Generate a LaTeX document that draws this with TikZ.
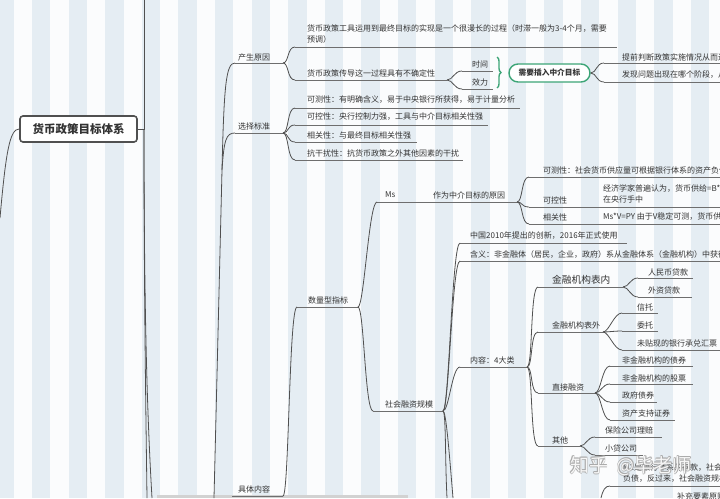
\documentclass[tikz,border=0pt]{standalone}
\usepackage{fontspec}
\setmainfont{Noto Sans CJK SC}
\usetikzlibrary{decorations.pathreplacing}
\definecolor{stripe}{HTML}{E5EDF3}
\definecolor{bgw}{HTML}{FBFCFD}
\definecolor{ln}{HTML}{505050}
\definecolor{ulc}{HTML}{6E6E6E}
\definecolor{txt}{HTML}{333333}
\definecolor{grn}{HTML}{3DA577}
\newcommand\mmtopic[8][]{%
  \node[tx,#1] (#2) at (#3,#4) {#8};
  \coordinate (#2-l) at (#5,#7);
  \coordinate (#2-r) at (#6,#7);
  \draw[ul] (#2-l) -- (#2-r);}
\newcommand\mmlink[2]{\draw[conn] (#1) .. controls +(6,0) and +(-8,0) .. (#2);}
\begin{document}
\begin{tikzpicture}[x=1pt,y=-1pt,
  tx/.style={anchor=west,inner sep=0pt,font=\fontsize{8}{11}\selectfont,text=txt},
  ul/.style={draw=ulc,line width=0.8pt},
  conn/.style={draw=ln,line width=0.8pt},
  rootbox/.style={draw=ln,line width=1.6pt,rounded corners=3pt,fill=white,
    minimum width=117pt,minimum height=26pt,inner sep=0pt,
    font=\fontsize{11.5}{13}\selectfont\bfseries,text=txt},
  gbox/.style={draw=grn,line width=1.4pt,rounded corners=9pt,fill=white,
    minimum width=81pt,minimum height=18pt,inner sep=0pt,
    font=\fontsize{7.7}{9}\selectfont\bfseries,text=txt},
  wm/.style={inner sep=0pt,font=\fontsize{19}{20}\selectfont}]
\useasboundingbox (0,0) rectangle (720,498);
\clip (0,0) rectangle (720,498);
\fill[bgw] (0,0) rectangle (720,498);
\foreach \k in {-1,...,19} \fill[stripe] ({32+36.6*\k},0) rectangle ++(18.3,498);
\fill[gray!35] (157,495) rectangle (408,498);

% root
\node[rootbox] (root) at (78.5,129) {货币政策目标体系};
\coordinate (rj) at (144,129);
\coordinate (rtop) at (144,0);
\coordinate (rb1) at (147,498);
\coordinate (rb2) at (152,498);
\coordinate (rleft) at (0,218);
\draw[conn] (root.east) -- (rj) -- (rtop);
\draw[conn] (rj) .. controls (144,300) and (146,420) .. (rb1);
\draw[conn] (rj) .. controls (144,330) and (148,430) .. (rb2);
\draw[conn] (root.west) .. controls (10,129) and (6,150) .. (rleft);

% 产生原因
\mmtopic{cs}{238}{57}{235}{283}{63}{产生原因}
\mmtopic[align=left]{c1}{307}{33.5}{295}{617}{47}{货币政策工具运用到最终目标的实现是一个很漫长的过程（时滞一般为3-4个月，需要\\预调）}
\mmtopic{c2}{307}{73}{295}{447}{80}{货币政策传导这一过程具有不确定性}
\mmtopic{sj}{472}{64}{462}{493}{71}{时间}
\mmtopic{xl}{472}{82}{462}{493}{89}{效力}
\mmlink{cs-r}{c1-l}
\mmlink{cs-r}{c2-l}
\mmlink{c2-r}{sj-l}
\mmlink{c2-r}{xl-l}
\draw[grn,line width=1.4pt,decorate,decoration={brace,amplitude=4pt}] (497,57) -- (497,88);
\node[gbox] (mid) at (549.5,73) {需要插入中介目标};
\mmtopic{m1}{622}{57}{604}{720}{63}{提前判断政策实施情况从而进行调整}
\mmtopic{m2}{622}{75}{604}{720}{82}{发现问题出现在哪个阶段，从而及时调整}
\mmlink{mid.east}{m1-l}
\mmlink{mid.east}{m2-l}

% 选择标准
\mmtopic{xz}{238}{126}{235}{283}{133}{选择标准}
\mmtopic{x1}{307}{100}{295}{520}{108}{可测性：有明确含义，易于中央银行所获得，易于计量分析}
\mmtopic{x2}{307}{117}{295}{488}{125}{可控性：央行控制力强，工具与中介目标相关性强}
\mmtopic{x3}{307}{135}{295}{417}{142}{相关性：与最终目标相关性强}
\mmtopic{x4}{307}{153}{295}{463}{160}{抗干扰性：抗货币政策之外其他因素的干扰}
\mmlink{xz-r}{x1-l}
\mmlink{xz-r}{x2-l}
\mmlink{xz-r}{x3-l}
\mmlink{xz-r}{x4-l}

% line from below to 产生原因 / 选择标准
\coordinate (bbot) at (214,498);
\coordinate (bj) at (222,170);
\draw[conn] (bbot) -- (bj) .. controls (224,85) and (226,63) .. (cs-l);
\draw[conn] (bj) .. controls (224,140) and (226,133) .. (xz-l);

% 具体内容
\mmtopic{jt}{238}{489}{232}{283}{496}{具体内容}
\mmtopic{sl}{308}{300}{297}{358}{307}{数量型指标}
\mmlink{jt-r}{sl-l}
\mmtopic{ms}{385}{195}{377}{423}{202}{Ms}
\mmtopic{zw}{433}{195}{423}{517}{202}{作为中介目标的原因}
\mmlink{sl-r}{ms-l}
\mmtopic{z1}{543}{170}{529}{720}{177}{可测性：社会货币供应量可根据银行体系的资产负债表统计}
\mmtopic{z2}{543}{200}{529}{597}{207}{可控性}
\mmtopic[align=left]{z2c}{603}{193.5}{597}{720}{207}{经济学家普遍认为，货币供给=B*m（基础货币*乘数），\\在央行手中}
\mmtopic{z3}{543}{217}{529}{597}{224}{相关性}
\mmtopic{z3c}{603}{217}{597}{720}{224}{Ms*V=PY 由于V稳定可测，货币供应量与物价相关}
\mmlink{zw-r}{z1-l}
\mmlink{zw-r}{z2-l}
\mmlink{zw-r}{z3-l}

% 社会融资规模
\mmtopic{sh}{385}{404}{373}{443}{411}{社会融资规模}
\mmlink{sl-r}{sh-l}
\mmtopic{s1}{470}{236}{460}{627}{243}{中国2010年提出的创新，2016年正式使用}
\mmtopic{s2}{470}{255}{460}{720}{261}{含义：非金融体（居民，企业，政府）系从金融体系（金融机构）中获得的资金总额}
\mmtopic{s3}{470}{360}{460}{527}{367}{内容：4大类}
\mmlink{sh-r}{s1-l}
\mmlink{sh-r}{s2-l}
\mmlink{sh-r}{s3-l}
\coordinate (sb1) at (447,498);
\coordinate (sb2) at (453,498);
\draw[conn] (sh-r) .. controls +(3,0) and (445,460) .. (sb1);
\draw[conn] (sh-r) .. controls +(3,0) and (449,450) .. (sb2);

% 4大类
\mmtopic[font=\fontsize{9.7}{12}\selectfont]{k1}{552}{280}{538}{623}{287}{金融机构表内}
\mmtopic{k11}{648}{272}{638}{693}{278}{人民币贷款}
\mmtopic{k12}{648}{290}{638}{692}{297}{外资贷款}
\mmtopic{k2}{552}{325}{538}{603}{332}{金融机构表外}
\mmtopic{k21}{637}{307}{622}{658}{313}{信托}
\mmtopic{k22}{637}{325}{622}{658}{331}{委托}
\mmtopic{k23}{637}{343}{622}{720}{350}{未贴现的银行承兑汇票}
\mmtopic{k3}{552}{387}{538}{595}{393}{直接融资}
\mmtopic{k31}{622}{360}{610}{693}{366}{非金融机构的债券}
\mmtopic{k32}{622}{378}{610}{693}{384}{非金融机构的股票}
\mmtopic{k33}{622}{395}{610}{657}{402}{政府债券}
\mmtopic{k34}{622}{413}{610}{675}{420}{资产支持证券}
\mmtopic{k4}{552}{440}{538}{580}{446}{其他}
\mmtopic{k41}{605}{430}{595}{662}{437}{保险公司理赔}
\mmtopic{k42}{605}{448}{595}{643}{455}{小贷公司}
\mmlink{s3-r}{k1-l}
\mmlink{s3-r}{k2-l}
\mmlink{s3-r}{k3-l}
\mmlink{s3-r}{k4-l}
\mmlink{k1-r}{k11-l}
\mmlink{k1-r}{k12-l}
\mmlink{k2-r}{k21-l}
\mmlink{k2-r}{k22-l}
\mmlink{k2-r}{k23-l}
\mmlink{k3-r}{k31-l}
\mmlink{k3-r}{k32-l}
\mmlink{k3-r}{k33-l}
\mmlink{k3-r}{k34-l}
\mmlink{k4-r}{k41-l}
\mmlink{k4-r}{k42-l}

% bottom right
\mmtopic[align=left]{b1}{623}{473}{610}{720}{486}{M2是银行体系的存款，社会融资规模是银行体系的资产，存款是银行的\\负债，反过来，社会融资规模也会派生存款}
\coordinate (bfork) at (601,498);
\draw[conn] (bfork) .. controls (603,490) and (605,486) .. (b1-l);
\node[tx] (b2) at (677,496) {补充要素原则};

% watermark: white glyphs with a soft grey outline
\foreach \dx/\dy [count=\i] in {-0.7/0,0.7/0,0/-0.7,0/0.7,-0.5/-0.5,0.5/0.5,-0.5/0.5,0.5/-0.5}
  \node[wm,text=gray!70,opacity=0.6] (wmo\i) at (631+\dx,466+\dy) {知乎 \ @毕老师};
\node[wm,text=white,opacity=0.9] (wmk) at (631,466) {知乎 \ @毕老师};
\end{tikzpicture}
\end{document}
